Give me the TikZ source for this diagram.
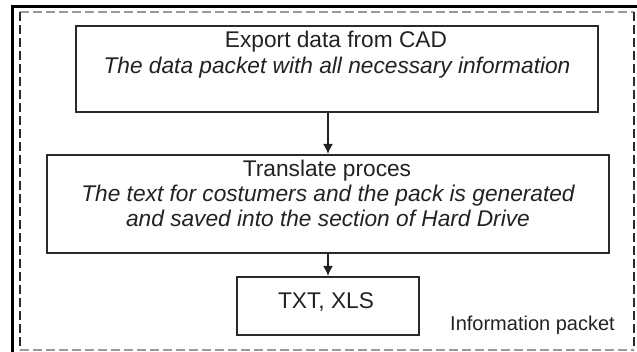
\documentclass[tikz,border=0pt]{standalone}
\usepackage{fontspec}
\setmainfont{Liberation Sans}
\usetikzlibrary{arrows.meta}
\definecolor{ink}{HTML}{222222}
\definecolor{edge}{HTML}{2A2A2A}
\definecolor{dashgray}{HTML}{9A9A9A}
\tikzset{
  x=1pt, y=-1pt,
  stepbox/.style={draw=edge, line width=2pt, fill=white, inner sep=0pt, anchor=north west},
  txt/.style={text=ink, inner sep=0pt, anchor=base, font=\fontsize{22.7}{26}\selectfont},
  flow/.style={draw=ink, line width=1.8pt, -{Latex[length=10pt,width=10pt]}},
  frameline/.style={dash pattern=on 9pt off 4pt, line width=1.3pt}
}
\begin{document}
\begin{tikzpicture}
\useasboundingbox (0,0) rectangle (637,352);
\clip (0,0) rectangle (637,352);
% outer solid frame
\draw[line width=3pt, draw=black] (12,7) rectangle (645,360);
% dashed frame
\draw[frameline, draw=dashgray] (20,12) -- (634,12);
\draw[frameline, draw=dashgray] (20,350) -- (634,350);
\draw[frameline, draw=edge] (20,12) -- (20,350);
\draw[frameline, draw=edge] (634,12) -- (634,350);
% boxes
\node[stepbox, minimum width=522pt, minimum height=86pt] (b1) at (75,25) {};
\node[stepbox, minimum width=562pt, minimum height=98pt] (b2) at (46,154) {};
\node[stepbox, minimum width=182pt, minimum height=58pt] (b3) at (236,276) {};
% texts
\node[txt] (t1a) at (336,48) {Export data from CAD};
\node[txt] (t1b) at (337,74) {\itshape The data packet with all necessary information};
\node[txt] (t2a) at (327,177) {Translate proces};
\node[txt] (t2b) at (328,202) {\itshape The text for costumers and the pack is generated};
\node[txt] (t2c) at (328,227) {\itshape and saved into the section of Hard Drive};
\node[txt] (t3) at (326,309) {TXT, XLS};
\node[txt, anchor=base west, font=\fontsize{20}{24}\selectfont] (lbl) at (450,331) {Information packet};
% connectors
\coordinate (a1s) at (b1.south -| 328,0);
\coordinate (a1e) at (b2.north -| 328,0);
\coordinate (a2s) at (b2.south -| 328,0);
\coordinate (a2e) at (b3.north -| 328,0);
\draw[flow] (a1s) -- (a1e);
\draw[flow] (a2s) -- (a2e);
\end{tikzpicture}
\end{document}
